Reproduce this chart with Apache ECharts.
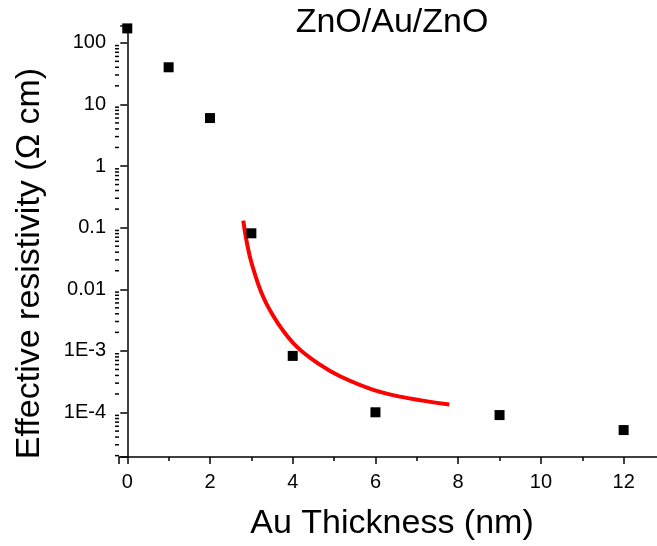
<!DOCTYPE html>
<html>
<head>
<meta charset="utf-8">
<script src="https://cdn.jsdelivr.net/npm/echarts@6/dist/echarts.min.js"></script>
<style>
  html, body { margin: 0; padding: 0; background: #fff; }
  #chart { width: 657px; height: 546px; }
</style>
</head>
<body>
<div id="chart"></div>
<script>
// measured points: Au thickness (nm) vs effective resistivity (Ohm cm)
var thickness = [0, 1, 2, 3, 4, 6, 9, 12];
var resistivity = [171, 40, 6.0, 0.081, 8.3e-4, 1.01e-4, 9.1e-5, 5.2e-5];

// red fit curve
var fitX = [2.805, 2.887, 3.008, 3.288, 3.651, 4.096, 4.659, 5.143, 5.948, 6.755, 7.785];
var fitY = [0.130, 0.0592, 0.0262, 0.00748, 0.00275, 0.001175, 5.98e-4, 3.88e-4, 2.34e-4, 1.73e-4, 1.355e-4];

var FONT = "'Liberation Sans', Arial, sans-serif";
var Y_MIN = 1.9e-5, Y_MAX = 187, X_MIN = -0.2, X_MAX = 13;

// log minor ticks (2..9 x 10^k) - echarts doesn't draw them on log axes
var minorY = [];
for (var k = -5; k <= 2; k++) {
  for (var m = 2; m <= 9; m++) {
    var v = m * Math.pow(10, k);
    if (v >= Y_MIN && v <= Y_MAX) minorY.push(v);
  }
}

function logLabel(v) {
  var e = Math.round(Math.log10(v));
  if (Math.abs(Math.log10(v) - e) > 1e-6) return "";
  if (e >= -2) return String(+Math.pow(10, e).toFixed(2));
  return "1E" + e;
}

var chart = echarts.init(document.getElementById("chart"));
chart.setOption({
  animation: false,
  title: {
    text: "ZnO/Au/ZnO",
    left: 392,
    top: 6,
    padding: 0,
    textAlign: "center",
    textStyle: { fontFamily: FONT, fontSize: 34, fontWeight: "normal", color: "#000" },
  },
  grid: { left: 119, right: -8, top: 26, bottom: 89, outerBoundsMode: "none", containLabel: false },
  xAxis: {
    type: "value",
    min: X_MIN,
    max: X_MAX,
    splitNumber: 6,
    name: "Au Thickness (nm)",
    nameLocation: "middle",
    nameGap: 50,
    nameTextStyle: { fontFamily: FONT, fontSize: 34, color: "#000" },
    axisLine: { lineStyle: { color: "#000", width: 1.5 } },
    axisTick: { length: 7, lineStyle: { color: "#000", width: 1.5 } },
    minorTick: { show: true, splitNumber: 2, length: 4, lineStyle: { color: "#000", width: 1.5 } },
    splitLine: { show: false },
    axisLabel: {
      margin: 15,
      fontFamily: FONT,
      fontSize: 20,
      color: "#000",
      formatter: function (v) {
        return Math.abs(v % 2) < 1e-9 ? String(v) : "";
      },
    },
  },
  yAxis: {
    type: "log",
    min: Y_MIN,
    max: Y_MAX,
    name: "Effective resistivity (\u03A9 cm)",
    nameLocation: "middle",
    nameGap: 72,
    nameTextStyle: { fontFamily: FONT, fontSize: 34, color: "#000", padding: [0, 44, 0, 0] },
    axisLine: { show: true, lineStyle: { color: "#000", width: 1.5 } },
    axisTick: { length: 7, lineStyle: { color: "#000", width: 1.5 } },
    splitLine: { show: false },
    axisLabel: {
      margin: 13,
      fontFamily: FONT,
      fontSize: 20,
      color: "#000",
      formatter: logLabel,
    },
  },
  series: [
    {
      type: "custom",
      data: minorY.map(function (v) { return [X_MIN, v]; }),
      clip: false,
      silent: true,
      renderItem: function (params, api) {
        var p = api.coord([api.value(0), api.value(1)]);
        return {
          type: "line",
          shape: { x1: p[0] - 4, y1: p[1], x2: p[0], y2: p[1] },
          style: { stroke: "#000", lineWidth: 1.5 },
        };
      },
      z: 1,
    },
    {
      type: "line",
      data: fitX.map(function (x, i) { return [x, fitY[i]]; }),
      smooth: 0.4,
      showSymbol: false,
      lineStyle: { color: "#ff0000", width: 4 },
      z: 2,
    },
    {
      type: "scatter",
      data: thickness.map(function (x, i) { return [x, resistivity[i]]; }),
      symbol: "rect",
      symbolSize: 10,
      itemStyle: { color: "#000", opacity: 1 },
      z: 3,
    },
  ],
});
</script>
</body>
</html>
